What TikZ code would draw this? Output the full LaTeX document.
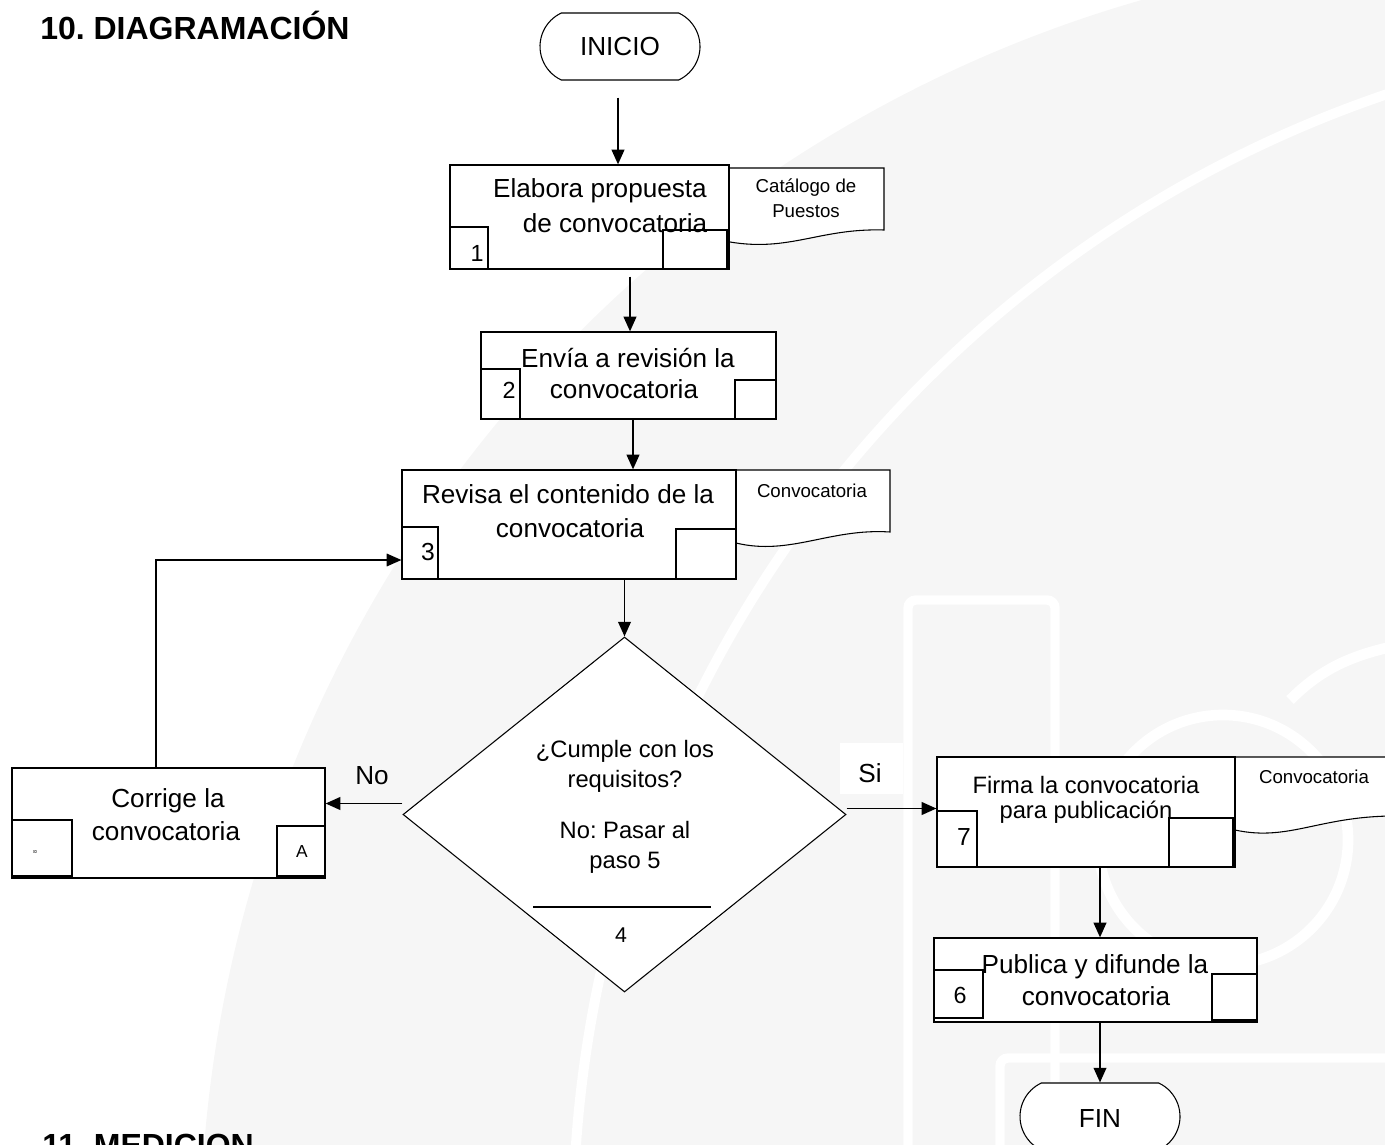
\documentclass[tikz,border=0pt]{standalone}
\usepackage{fontspec}
\setmainfont{Liberation Sans}
\usetikzlibrary{arrows.meta,shapes.misc,shapes.geometric,fit}
\definecolor{wm}{RGB}{246,246,246}
\frenchspacing
\begin{document}
\begin{tikzpicture}[x=0.75pt,y=-0.75pt,
  proc/.style={draw,line width=0.9pt,fill=white,inner sep=0pt},
  numbox/.style={draw,line width=1.6pt,fill=white,inner sep=0pt},
  tagbox/.style={draw,line width=0.9pt,fill=white,inner sep=0pt},
  term/.style={draw,line width=0.8pt,fill=white,rounded rectangle,
    rounded rectangle arc length=130,minimum width=120pt,minimum height=50.25pt,inner sep=0pt},
  tip/.style={-{Triangle[length=11pt,width=9.5pt]}},
  flow/.style={line width=1.35pt,tip},
  doc/.style={draw,line width=0.8pt,fill=white},
  big/.style={font=\fontsize{19.6}{23}\selectfont,anchor=base,inner sep=0pt},
  mid/.style={font=\fontsize{17.8}{21}\selectfont,anchor=base,inner sep=0pt},
  small/.style={font=\fontsize{14}{17}\selectfont,anchor=base,inner sep=0pt},
  num/.style={font=\fontsize{17.5}{20}\selectfont,anchor=base,inner sep=0pt},
  head/.style={font=\fontsize{24}{28}\selectfont\bfseries,anchor=base west,inner sep=0pt}]

\useasboundingbox (0,0) rectangle (1385,1145);
\clip (0,0) rectangle (1385,1145);

% faint watermark in the background
\fill[wm] (1500,1250) circle[radius=1300];
\draw[white,line width=7.5pt] (1772,1230) circle[radius=1199];
\draw[white,line width=7pt,rounded corners=6pt] (908,600) rectangle (1055,1170);
\draw[white,line width=7pt,rounded corners=6pt] (1000,1058) rectangle (1420,1180);
\draw[white,line width=8pt] (1223,840) circle[radius=125];
\draw[white,line width=8pt] (1290,700) .. controls (1320,670) and (1350,655) .. (1400,645);

% headings
\node[head] (t10) at (40,40) {10. DIAGRAMACIÓN};
\node[head] (t11) at (42,1156) {11. MEDICION};

% start
\node[term] (inicio) at (620,46.5) {};
\node[big] (inicioT) at (620,56) {INICIO};

% step 1
\draw[doc] (720,168) -- (884,168) -- (884,230)
  .. controls (820,228) and (790,252) .. (730,242) -- (720,242) -- cycle;
\node[small] (d1a) at (806,193) {Catálogo de};
\node[small] (d1b) at (806,218) {Puestos};
\node[proc,fit={(450,165)(729,269)}] (b1) {};
\node[numbox,fit={(450,227)(488,269)}] (n1) {};
\node[tagbox,fit={(663,230)(727,269)}] (t1) {};
\node[num] at (477,262) {1};
\node[big] (b1a) at (600,198) {Elabora propuesta};
\node[big] (b1b) at (615,233) {de convocatoria};

% step 2
\node[proc,fit={(481,332)(776,419)}] (b2) {};
\node[numbox,fit={(481,369)(520,419)}] (n2) {};
\node[tagbox,fit={(735,380)(776,419)}] (t2) {};
\node[num] at (509,398) {2};
\node[big] (b2a) at (628,367) {Envía a revisión la};
\node[big] (b2b) at (624,398) {convocatoria};

% step 3
\draw[doc] (720,470) -- (890,470) -- (890,532)
  .. controls (830,528) and (790,556) .. (736,543) -- (720,543) -- cycle;
\node[small] (d3) at (812,497) {Convocatoria};
\node[proc,fit={(402,470)(736,579)}] (b3) {};
\node[numbox,fit={(402,527)(438,579)}] (n3) {};
\node[tagbox,fit={(676,529)(736,579)}] (t3) {};
\node[num,font=\fontsize{18.5}{21}\selectfont] at (428,560) {3};
\node[big] (b3a) at (568,503) {Revisa el contenido de la};
\node[big] (b3b) at (570,537) {convocatoria};

% decision
\node[draw,diamond,line width=0.8pt,fill=white,minimum width=332.25pt,
  minimum height=266.25pt,inner sep=0pt] (dia) at (624.5,814.5) {};
\node[mid] at (625,757) {¿Cumple con los};
\node[mid] at (625,787) {requisitos?};
\node[mid] at (625,838) {No: Pasar al};
\node[mid] at (625,868) {paso 5};
\draw[line width=1.5pt] (533,907) -- (711,907);
\node[num,font=\fontsize{16}{19}\selectfont] at (621,942) {4};

% correction
\node[proc,fit={(12,768)(325,878)}] (b5) {};
\node[numbox,fit={(12,820)(72,876)}] (n5) {};
\node[tagbox,fit={(277,826)(325,876)}] (t5) {};
\node[font=\fontsize{4}{4}\selectfont,rotate=90,inner sep=0pt] at (35,852) {8};
\node[num,font=\fontsize{13}{16}\selectfont] at (302,857) {A};
\node[big] (b5a) at (168,807) {Corrige la};
\node[big] (b5b) at (166,840) {convocatoria};

% signature
\draw[doc] (1220,757) -- (1400,757) -- (1400,816)
  .. controls (1320,815) and (1290,842) .. (1235,830) -- (1220,830) -- cycle;
\node[small] (d7) at (1314,783) {Convocatoria};
\node[proc,fit={(937,757)(1235,867)}] (b7) {};
\node[numbox,fit={(937,811)(977,867)}] (n7) {};
\node[tagbox,fit={(1169,818)(1233,867)}] (t7) {};
\node[num,font=\fontsize{18.5}{21}\selectfont] at (964,845) {7};
\node[mid] (b7a) at (1086,793) {Firma la convocatoria};
\node[mid] (b7b) at (1086,818) {para publicación};

% publication
\node[proc,fit={(934,938)(1257,1022)}] (b6) {};
\node[numbox,fit={(934,970)(983,1018)}] (n6) {};
\node[tagbox,fit={(1212,974)(1257,1020)}] (t6) {};
\node[num] at (960,1003) {6};
\node[big] (b6a) at (1095,973) {Publica y difunde la};
\node[big] (b6b) at (1096,1005) {convocatoria};

% end
\node[term] (fin) at (1100,1116.5) {};
\node[big] (finT) at (1100,1127) {FIN};

% connectors
\coordinate (x01) at (618,0);
\coordinate (x12) at (630,0);
\coordinate (x23) at (633,0);
\coordinate (lp) at (156,560);
\coordinate (nostart) at ([yshift=8.25pt]dia.west);
\coordinate (sistart) at ([yshift=4.5pt]dia.east);

\draw[flow] (inicio.south -| x01) ++(0,17) -- (b1.north -| x01);
\draw[flow] (b1.south -| x12) ++(0,7) -- (b2.north -| x12);
\draw[flow] (b2.south -| x23) -- (b3.north -| x23);
\draw[flow] (b3.south -| dia.north) -- (dia.north);
\draw[flow] (nostart) -- (nostart -| b5.east);
\draw[line width=0.9pt,tip] (b5.north -| lp) -- (lp) -- (lp -| b3.west);
\draw[flow] (sistart) -- (sistart -| b7.west);
\draw[flow] (b7.south -| fin.north) -- (b6.north -| fin.north);
\draw[flow] (b6.south -| fin.north) -- (fin.north);

% branch labels
\fill[white] (840,743) rectangle (903,794);
\node[big] (lno) at (372,784) {No};
\node[big] (lsi) at (870,782) {Si};
\end{tikzpicture}
\end{document}
